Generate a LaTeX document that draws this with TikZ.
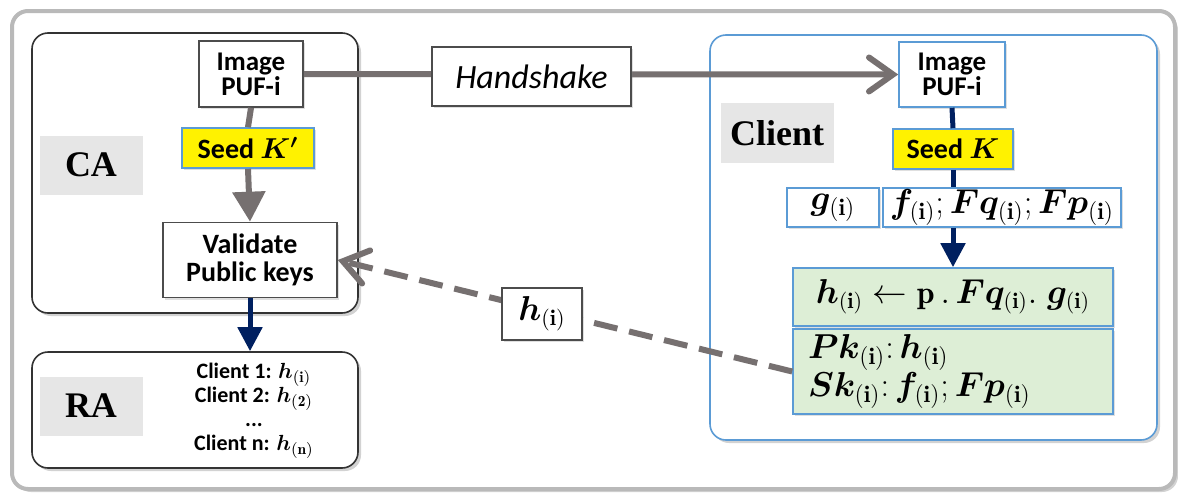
\documentclass[tikz,border=0pt]{standalone}
\usepackage{amsmath}
\usepackage{bm}
\usepackage{fontspec}
\setsansfont{Carlito}
\newfontfamily\etiquetafont{Liberation Serif}
\usetikzlibrary{arrows.meta,shadows}

\definecolor{flechagris}{RGB}{118,112,112}
\definecolor{azulmarino}{RGB}{0,32,96}
\definecolor{azulcliente}{RGB}{91,155,213}
\definecolor{verdeclaro}{RGB}{221,238,214}
\definecolor{grisetiqueta}{RGB}{230,230,230}

\newcommand{\subi}{_{(\mathbf{i})}}

\begin{document}
\begin{tikzpicture}[
    x=0.5pt,
    y=-0.5pt,
    sombra/.style={drop shadow={shadow xshift=1.5pt, shadow yshift=-1.5pt, opacity=0.35}},
    contenedor/.style={draw=gray!40!black, fill=white, line width=0.8pt,
      rounded corners=8pt, sombra},
    caja/.style={draw=gray!60!black, fill=white, align=center, inner sep=0pt,
      line width=0.8pt, font=\sffamily\bfseries,
      drop shadow={shadow xshift=1pt, shadow yshift=-1pt, opacity=0.25}},
    cajaazul/.style={caja, draw=azulcliente},
    semilla/.style={caja, fill=yellow, draw=azulcliente},
    verde/.style={caja, fill=verdeclaro, draw=azulcliente},
    etiqueta/.style={fill=grisetiqueta, inner sep=0pt,
      font=\etiquetafont\fontsize{18}{20}\selectfont\bfseries},
    flecha/.style={flechagris, line width=3pt},
    marino/.style={azulmarino, line width=2.5pt}
  ]
    \fill[white] (0,0) rectangle (1178,493);
    \useasboundingbox (0,0) rectangle (1178,493);

    % Marco exterior
    \draw[gray!55, fill=white, line width=2pt, rounded corners=8pt, sombra]
      (12,11) rectangle (1175,489);

    % --- CA ---
    \node[contenedor, minimum width=163pt, minimum height=140pt] (ca) at (195,173) {};
    \node[etiqueta, minimum width=51.5pt, minimum height=29.5pt] (caeti) at (91,165) {CA};
    \node[caja, minimum width=52pt, minimum height=33pt,
      font=\sffamily\bfseries\fontsize{13.5}{12.5}\selectfont]
      (pufca) at (251,74) {Image\\PUF-i};
    \node[semilla, minimum width=66pt, minimum height=20pt,
      font=\sffamily\bfseries\fontsize{14}{15}\selectfont]
      (semillaca) at (248,148) {Seed $\bm{K'}$};
    \node[caja, minimum width=87pt, minimum height=37.5pt,
      font=\sffamily\bfseries\fontsize{14}{14}\selectfont]
      (validar) at (250,260) {Validate\\Public keys};
    \draw[flecha] (pufca.south) -- (semillaca.north);
    \draw[flecha, -{Triangle[length=15pt,width=16pt]}] (semillaca.south) -- (validar.north);

    % --- RA ---
    \node[contenedor, minimum width=163pt, minimum height=58pt] (ra) at (195,410) {};
    \node[etiqueta, minimum width=51.5pt, minimum height=29.5pt] (raeti) at (91,406) {RA};
    \node[align=center, inner sep=0pt, font=\sffamily\bfseries\fontsize{11}{12}\selectfont]
      (lista) at (254,411)
      {Client 1: $\bm{h}\subi$\\ Client 2: $\bm{h}_{(\mathbf{2})}$\\ ...\\
       Client n: $\bm{h}_{(\mathbf{n})}$};
    \draw[marino, -{Triangle[length=12pt,width=12pt]}] (validar.south) -- (validar.south |- ra.north);

    % --- Cliente ---
    \node[contenedor, draw=azulcliente, minimum width=223.5pt, minimum height=202.5pt]
      (cliente) at (933.5,237.5) {};
    \node[etiqueta, minimum width=56.5pt, minimum height=30pt] (clieti) at (777,133) {Client};
    \node[cajaazul, minimum width=53pt, minimum height=32.5pt,
      font=\sffamily\bfseries\fontsize{13.5}{12.5}\selectfont]
      (pufcli) at (952,74.5) {Image\\PUF-i};
    \node[semilla, minimum width=60pt, minimum height=20pt,
      font=\sffamily\bfseries\fontsize{14}{15}\selectfont]
      (semillacli) at (953,149) {Seed $\bm{K}$};
    \node[cajaazul, minimum width=46pt, minimum height=19.5pt, font=\fontsize{17}{17}\selectfont]
      (g) at (833,207.5) {$\bm{g}\subi$};
    \node[cajaazul, minimum width=119pt, minimum height=19.5pt, font=\fontsize{17}{17}\selectfont]
      (f) at (1002,207.5) {$\bm{f}\subi;\bm{F}\bm{q}\subi;\bm{F}\bm{p}\subi$};
    \node[verde, minimum width=160pt, minimum height=29pt, font=\fontsize{16}{16}\selectfont]
      (hcalc) at (953,297)
      {$\bm{h}\subi \leftarrow \mathbf{p}\,.\,\bm{F}\bm{q}\subi.\ \bm{g}\subi$};
    \node[verde, text width=145pt, inner xsep=7.5pt, minimum height=42.5pt, align=left,
      font=\fontsize{17}{16.5}\selectfont]
      (claves) at (953,371.5)
      {$\bm{P}\bm{k}\subi\mathbf{:}\,\bm{h}\subi$\\
       $\bm{S}\bm{k}\subi\mathbf{:}\,\bm{f}\subi;\bm{F}\bm{p}\subi$};
    \draw[marino] (pufcli.south) -- (semillacli.north);
    \draw[marino] (semillacli.south) -- (semillacli.south |- f.north);
    \draw[marino, -{Triangle[length=12pt,width=12pt]}] (semillacli.south |- f.south) -- (hcalc.north);

    % --- Intercambio ---
    \draw[flecha, -{Straight Barb[length=12pt,width=17pt,line cap=round]}]
      (pufca.east) -- (pufcli.west);
    \node[caja, minimum width=99.5pt, minimum height=29.5pt,
      font=\sffamily\itshape\fontsize{17}{17}\selectfont]
      (handshake) at (531.5,76.5) {Handshake};
    \draw[flecha, dash pattern=on 12pt off 6pt,
      -{Straight Barb[length=12pt,width=17pt,line cap=round]}]
      (claves.west) -- (validar.east);
    \node[caja, minimum width=40pt, minimum height=26pt, font=\fontsize{16}{16}\selectfont]
      (hetiq) at (542,314) {$\bm{h}\subi$};
  \end{tikzpicture}
\end{document}
